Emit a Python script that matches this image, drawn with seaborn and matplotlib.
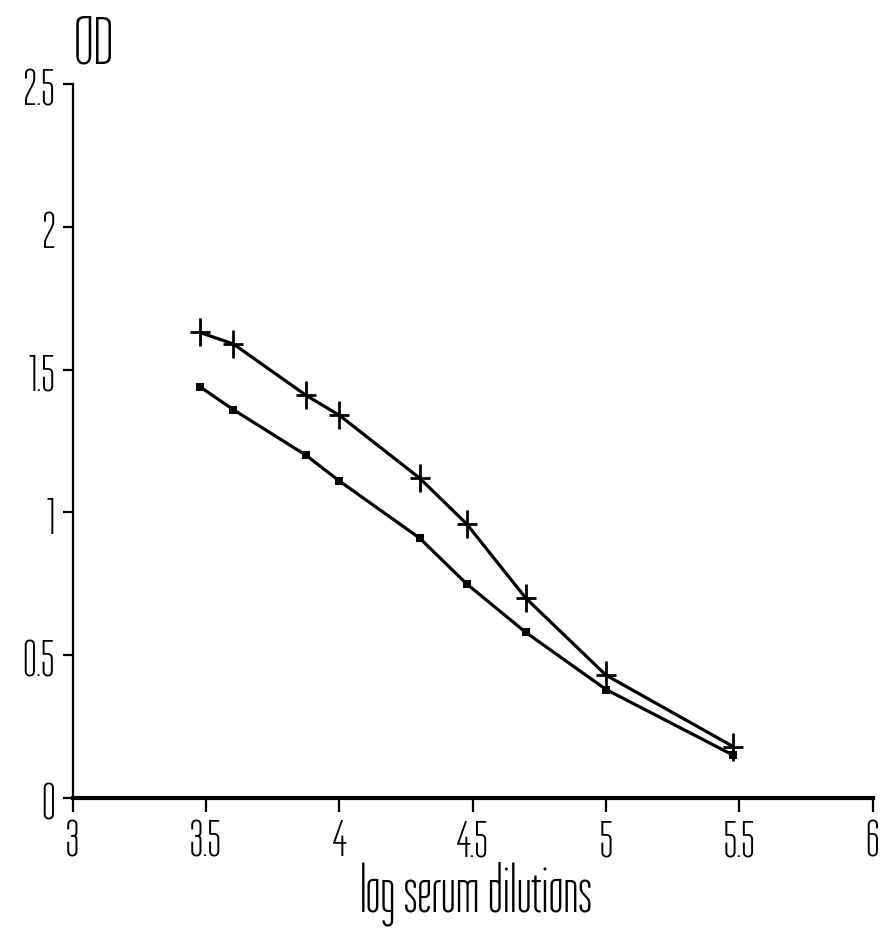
import matplotlib
matplotlib.use("Agg")
import matplotlib.pyplot as plt
from matplotlib.path import Path
import seaborn as sns
import pandas as pd

# Data (log10 serum dilution vs OD)
log_dilution = [3.477, 3.602, 3.875, 4.0, 4.301, 4.477, 4.699, 5.0, 5.477]
od_plus = [1.63, 1.59, 1.41, 1.34, 1.12, 0.96, 0.70, 0.43, 0.18]
od_square = [1.44, 1.36, 1.20, 1.11, 0.91, 0.75, 0.58, 0.38, 0.15]

x_ticks = [3, 3.5, 4, 4.5, 5, 5.5, 6]
x_tick_labels = ["3", "3.5", "4", "4.5", "5", "5.5", "6"]
y_ticks = [0, 0.5, 1, 1.5, 2, 2.5]
y_tick_labels = ["0", "0.5", "1", "1.5", "2", "2.5"]

sns.set_style("ticks")
plt.rcParams["font.family"] = ["Tulpen One", "DejaVu Sans"]

fig = plt.figure(figsize=(8.88, 9.29), dpi=100)
ax = fig.add_axes([0.0819, 0.1399, 0.9009, 0.7686])

plus_marker = Path([(-1, 0), (1, 0), (0, -1.4), (0, 1.4)],
                   [Path.MOVETO, Path.LINETO, Path.MOVETO, Path.LINETO])

df_plus = pd.DataFrame({"x": log_dilution, "y": od_plus})
df_sq = pd.DataFrame({"x": log_dilution, "y": od_square})

sns.lineplot(data=df_plus, x="x", y="y", ax=ax, color="black", linewidth=2.3,
             marker=plus_marker, markersize=20, markeredgewidth=2.0,
             markeredgecolor="black", markerfacecolor="none")
sns.lineplot(data=df_sq, x="x", y="y", ax=ax, color="black", linewidth=2.3,
             marker="s", markersize=5.5, markeredgewidth=0,
             markerfacecolor="black")

ax.set_xlim(3, 6)
ax.set_ylim(0, 2.5)
ax.set_xticks(x_ticks)
ax.set_xticklabels(x_tick_labels, fontsize=38)
ax.set_yticks(y_ticks)
ax.set_yticklabels(y_tick_labels, fontsize=38)

for s in ["top", "right"]:
    ax.spines[s].set_visible(False)
ax.spines["left"].set_linewidth(1.6)
ax.spines["left"].set_color("black")
ax.spines["bottom"].set_linewidth(3.0)
ax.spines["bottom"].set_color("black")

ax.tick_params(axis="x", direction="out", length=10, width=1.6, pad=2, colors="black")
ax.tick_params(axis="y", direction="out", length=7, width=1.6, pad=6, colors="black")

ax.set_xlabel("log serum dilutions", fontsize=46, color="black")
ax.xaxis.label.set_va("baseline")
ax.xaxis.set_label_coords(0.505, -0.157)
ax.set_ylabel("")
fig.text(0.083, 0.932, "OD", fontsize=50, color="black", ha="left", va="baseline")

fig.savefig("out.png", dpi=100, facecolor="white")
